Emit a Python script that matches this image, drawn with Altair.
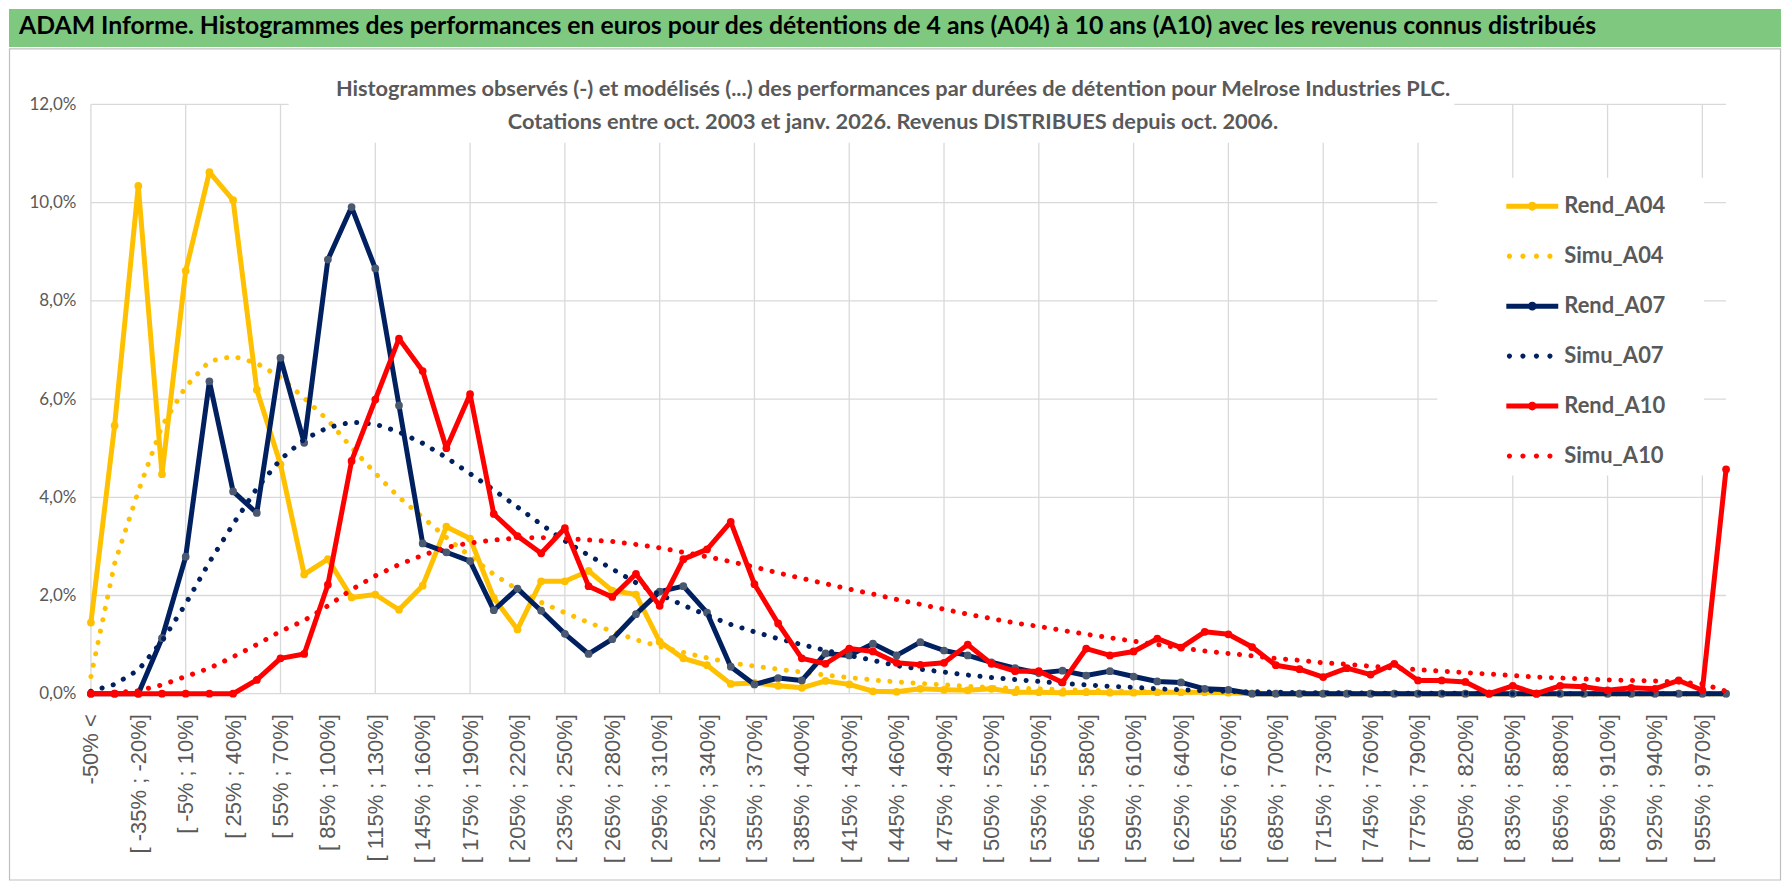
import altair as alt
import pandas as pd

# ---------------- data ----------------
categories = ["-50% <"] + [f"[ {lo}% ; {lo + 15}%]" for lo in range(-50, 970, 15)] + ["> 970%"]

rend_a04 = [1.45, 5.46, 10.34, 4.47, 8.61, 10.62, 10.05, 6.19, 4.67, 2.43,
            2.74, 1.96, 2.02, 1.71, 2.2, 3.4, 3.16, 1.95, 1.31, 2.29,
            2.29, 2.5, 2.1, 2.02, 1.06, 0.72, 0.58, 0.2, 0.22, 0.16,
            0.12, 0.26, 0.19, 0.05, 0.04, 0.1, 0.08, 0.07, 0.1, 0.03,
            0.03, 0.02, 0.03, 0.02, 0.02, 0.03, 0.03, 0.03, 0.02, 0,
            0, 0, 0, 0, 0, 0, 0, 0, 0, 0,
            0, 0, 0, 0, 0, 0, 0, 0, 0, 0]
simu_a04 = [0.35, 2.65, 4.12, 5.45, 6.25, 6.77, 6.87, 6.73, 6.44, 6.02,
            5.57, 5.01, 4.49, 4.0, 3.59, 3.18, 2.8, 2.43, 2.12, 1.86,
            1.65, 1.45, 1.27, 1.1, 0.96, 0.84, 0.73, 0.63, 0.56, 0.5,
            0.44, 0.38, 0.33, 0.28, 0.24, 0.21, 0.18, 0.15, 0.13, 0.11,
            0.1, 0.08, 0.07, 0.06, 0.05, 0.04, 0.03, 0.03, 0.02, 0.02,
            0.01, 0.01, 0.01, 0.01, 0.01, 0.01, 0, 0, 0, 0,
            0, 0, 0, 0, 0, 0, 0, 0, 0, 0]
rend_a07 = [0, 0, 0, 1.13, 2.79, 6.36, 4.12, 3.68, 6.84, 5.11,
            8.84, 9.91, 8.66, 5.87, 3.06, 2.88, 2.7, 1.7, 2.14, 1.69,
            1.22, 0.81, 1.11, 1.62, 2.08, 2.19, 1.65, 0.55, 0.19, 0.32,
            0.27, 0.82, 0.78, 1.02, 0.78, 1.05, 0.88, 0.78, 0.64, 0.52,
            0.42, 0.47, 0.37, 0.46, 0.35, 0.25, 0.23, 0.1, 0.08, 0,
            0, 0, 0, 0, 0, 0, 0, 0, 0, 0,
            0, 0, 0, 0, 0, 0, 0, 0, 0, 0]
simu_a07 = [0.05, 0.19, 0.48, 1.07, 1.83, 2.68, 3.45, 4.18, 4.77, 5.18,
            5.42, 5.53, 5.49, 5.33, 5.1, 4.81, 4.48, 4.15, 3.8, 3.45,
            3.11, 2.82, 2.54, 2.26, 2.02, 1.8, 1.6, 1.41, 1.26, 1.12,
            1.0, 0.88, 0.78, 0.68, 0.57, 0.5, 0.44, 0.38, 0.33, 0.29,
            0.25, 0.21, 0.18, 0.15, 0.13, 0.1, 0.08, 0.06, 0.05, 0.04,
            0.03, 0.02, 0.02, 0.02, 0.01, 0.01, 0.01, 0.01, 0.01, 0.01,
            0, 0, 0, 0, 0, 0, 0, 0, 0, 0]
rend_a10 = [0, 0, 0, 0, 0, 0, 0, 0.28, 0.72, 0.81,
            2.22, 4.74, 5.99, 7.23, 6.57, 5.0, 6.1, 3.66, 3.21, 2.86,
            3.37, 2.19, 1.97, 2.44, 1.79, 2.74, 2.94, 3.5, 2.23, 1.43,
            0.72, 0.61, 0.92, 0.86, 0.63, 0.59, 0.63, 1.0, 0.61, 0.46,
            0.46, 0.23, 0.92, 0.78, 0.86, 1.12, 0.94, 1.26, 1.21, 0.95,
            0.58, 0.5, 0.34, 0.52, 0.39, 0.61, 0.27, 0.27, 0.24, 0,
            0.16, 0, 0.16, 0.14, 0.07, 0.12, 0.1, 0.27, 0.07, 4.57]
simu_a10 = [0, 0.02, 0.06, 0.18, 0.35, 0.52, 0.75, 1.0, 1.27, 1.49,
            1.79, 2.12, 2.4, 2.63, 2.82, 2.98, 3.07, 3.13, 3.17, 3.18,
            3.16, 3.13, 3.1, 3.04, 2.97, 2.88, 2.79, 2.69, 2.58, 2.46,
            2.35, 2.24, 2.13, 2.03, 1.92, 1.82, 1.72, 1.62, 1.53, 1.44,
            1.37, 1.29, 1.21, 1.14, 1.07, 1.0, 0.93, 0.87, 0.82, 0.77,
            0.72, 0.68, 0.63, 0.6, 0.56, 0.52, 0.49, 0.46, 0.43, 0.4,
            0.37, 0.34, 0.32, 0.3, 0.28, 0.27, 0.26, 0.24, 0.2, 0.05]

series_names = ["Rend_A04", "Simu_A04", "Rend_A07", "Simu_A07", "Rend_A10", "Simu_A10"]
series_values = [rend_a04, simu_a04, rend_a07, simu_a07, rend_a10, simu_a10]

y_ticks = [0, 2, 4, 6, 8, 10, 12]

banner_text = ("ADAM Informe. Histogrammes des performances en euros pour des détentions "
               "de 4 ans (A04) à 10 ans (A10) avec les revenus connus distribués")
title_lines = ["Histogrammes observés (-) et modélisés (...) des performances par durées de détention pour Melrose Industries PLC.",
               "Cotations entre oct. 2003 et janv. 2026. Revenus DISTRIBUES depuis oct. 2006."]

# ---------------- styles ----------------
SANS = "Lato, sans-serif"
REG = "Liberation Sans, Arial, sans-serif"
GREY = "#595959"
GRID = "#D9D9D9"
line_colors = ["#FFC000", "#FFC000", "#002060", "#002060", "#FF0000", "#FF0000"]
line_dashes = [None, [0.1, 11.5], None, [0.1, 11.5], None, [0.1, 11.5]]
marker_colors = {"Rend_A04": "#FFC000", "Rend_A07": "#4A5870", "Rend_A10": "#FF0000"}


def circle_path(cx, r):
    # clockwise circle (same winding as the bar, so it is filled, not a hole)
    return f"M{cx - r:.3f},0A{r},{r} 0 1,1 {cx + r:.3f},0A{r},{r} 0 1,1 {cx - r:.3f},0Z"


# legend symbols (unit square [-1, 1]): solid line with marker / row of dots
solid_sym = "M-1,-0.096L1,-0.096L1,0.096L-1,0.096Z" + circle_path(0, 0.17)
dotted_sym = "".join(circle_path(c, 0.1) for c in [-0.88, -0.36, 0.16, 0.68])
legend_shapes = [solid_sym, dotted_sym, solid_sym, dotted_sym, solid_sym, dotted_sym]

W, H = 1637, 590

rows = []
for name, vals in zip(series_names, series_values):
    for c, v in zip(categories, vals):
        rows.append({"cat": c, "series": name, "value": v / 100.0})
df = pd.DataFrame(rows)

x_axis = alt.Axis(values=categories[::2], labelAngle=270, labelFont=REG, labelFontSize=22,
                  labelColor=GREY, labelPadding=20, ticks=False, domain=False, grid=False,
                  labelOverlap=False, labelLimit=400, title=None)
y_axis = alt.Axis(values=[t / 100 for t in y_ticks],
                  labelExpr="replace(format(datum.value, '.1%'), '.', ',')",
                  labelFont=SANS, labelFontSize=17, labelColor=GREY, labelPadding=15,
                  ticks=False, domain=False, grid=False, title=None)


def xenc():
    return alt.X("cat:N", scale=alt.Scale(type="point", domain=categories, padding=0), axis=x_axis)


def yenc():
    return alt.Y("value:Q", scale=alt.Scale(domain=[0, 0.12], nice=False, zero=True), axis=y_axis)


legend = alt.Legend(title=None, orient="none", legendX=1417, legendY=76, direction="vertical",
                    symbolSize=2704, symbolStrokeWidth=0,
                    labelFont=SANS, labelFontSize=22, labelFontWeight="bold", labelColor=GREY,
                    labelOffset=6, rowPadding=13, padding=0, labelLimit=300)

one = pd.DataFrame({"k": [0]})

layers = []
# banner
layers.append(alt.Chart(one).mark_rect(fill="#7FC87F").encode(
    x=alt.value(-82), x2=alt.value(1692), y=alt.value(-95.5), y2=alt.value(-57.5)))
layers.append(alt.Chart(one).mark_text(align="left", baseline="middle", font=SANS, fontSize=24.8,
                                       fontWeight="bold", color="black").encode(
    x=alt.value(-72), y=alt.value(-77.5), text=alt.value(banner_text)))
# frame
layers.append(alt.Chart(one).mark_rect(fill=None, stroke="#BFBFBF", strokeWidth=1.2).encode(
    x=alt.value(-81.5), x2=alt.value(1691.5), y=alt.value(-55.5), y2=alt.value(776.5)))
# grid
layers.append(alt.Chart(pd.DataFrame({"value": [t / 100 for t in y_ticks]})).mark_rule(
    color=GRID, strokeWidth=1.3).encode(y=yenc()))
layers.append(alt.Chart(pd.DataFrame({"cat": categories[::4]})).mark_rule(
    color=GRID, strokeWidth=1.3).encode(x=xenc()))
# white boxes behind title and legend
layers.append(alt.Chart(one).mark_rect(fill="white").encode(
    x=alt.value(198), x2=alt.value(1365), y=alt.value(-12), y2=alt.value(38.5)))
layers.append(alt.Chart(one).mark_rect(fill="white").encode(
    x=alt.value(1348), x2=alt.value(1615), y=alt.value(73.5), y2=alt.value(371.5)))
# chart titles
for txt, yy in zip(title_lines, [-15.5, 17.5]):
    layers.append(alt.Chart(one).mark_text(align="center", baseline="middle", font=SANS,
                                           fontSize=21.8, fontWeight="bold", color=GREY).encode(
        x=alt.value(803), y=alt.value(yy), text=alt.value(txt)))

# data series (one layer each, in drawing order)
for name, col, dash in zip(series_names, line_colors, line_dashes):
    sub = df[df["series"] == name]
    props = dict(color=col, strokeWidth=5, strokeCap="round", strokeJoin="round")
    if dash is not None:
        props["strokeDash"] = dash
    layers.append(alt.Chart(sub).mark_line(**props).encode(x=xenc(), y=yenc()))
    if name in marker_colors:
        layers.append(alt.Chart(sub).mark_circle(size=60, opacity=1, color=marker_colors[name]).encode(
            x=xenc(), y=yenc()))

# legend carrier: no visible marks, scales give the legend entries
layers.append(alt.Chart(df).transform_filter("false").mark_point(filled=True, opacity=1).encode(
    x=xenc(), y=yenc(),
    color=alt.Color("series:N", scale=alt.Scale(domain=series_names, range=line_colors), legend=legend),
    shape=alt.Shape("series:N", scale=alt.Scale(domain=series_names, range=legend_shapes), legend=legend),
))

chart = alt.layer(*layers).properties(width=W, height=H, padding=0).configure_view(stroke=None)

chart.save("out.html", embed_options={"renderer": "svg", "actions": False})
